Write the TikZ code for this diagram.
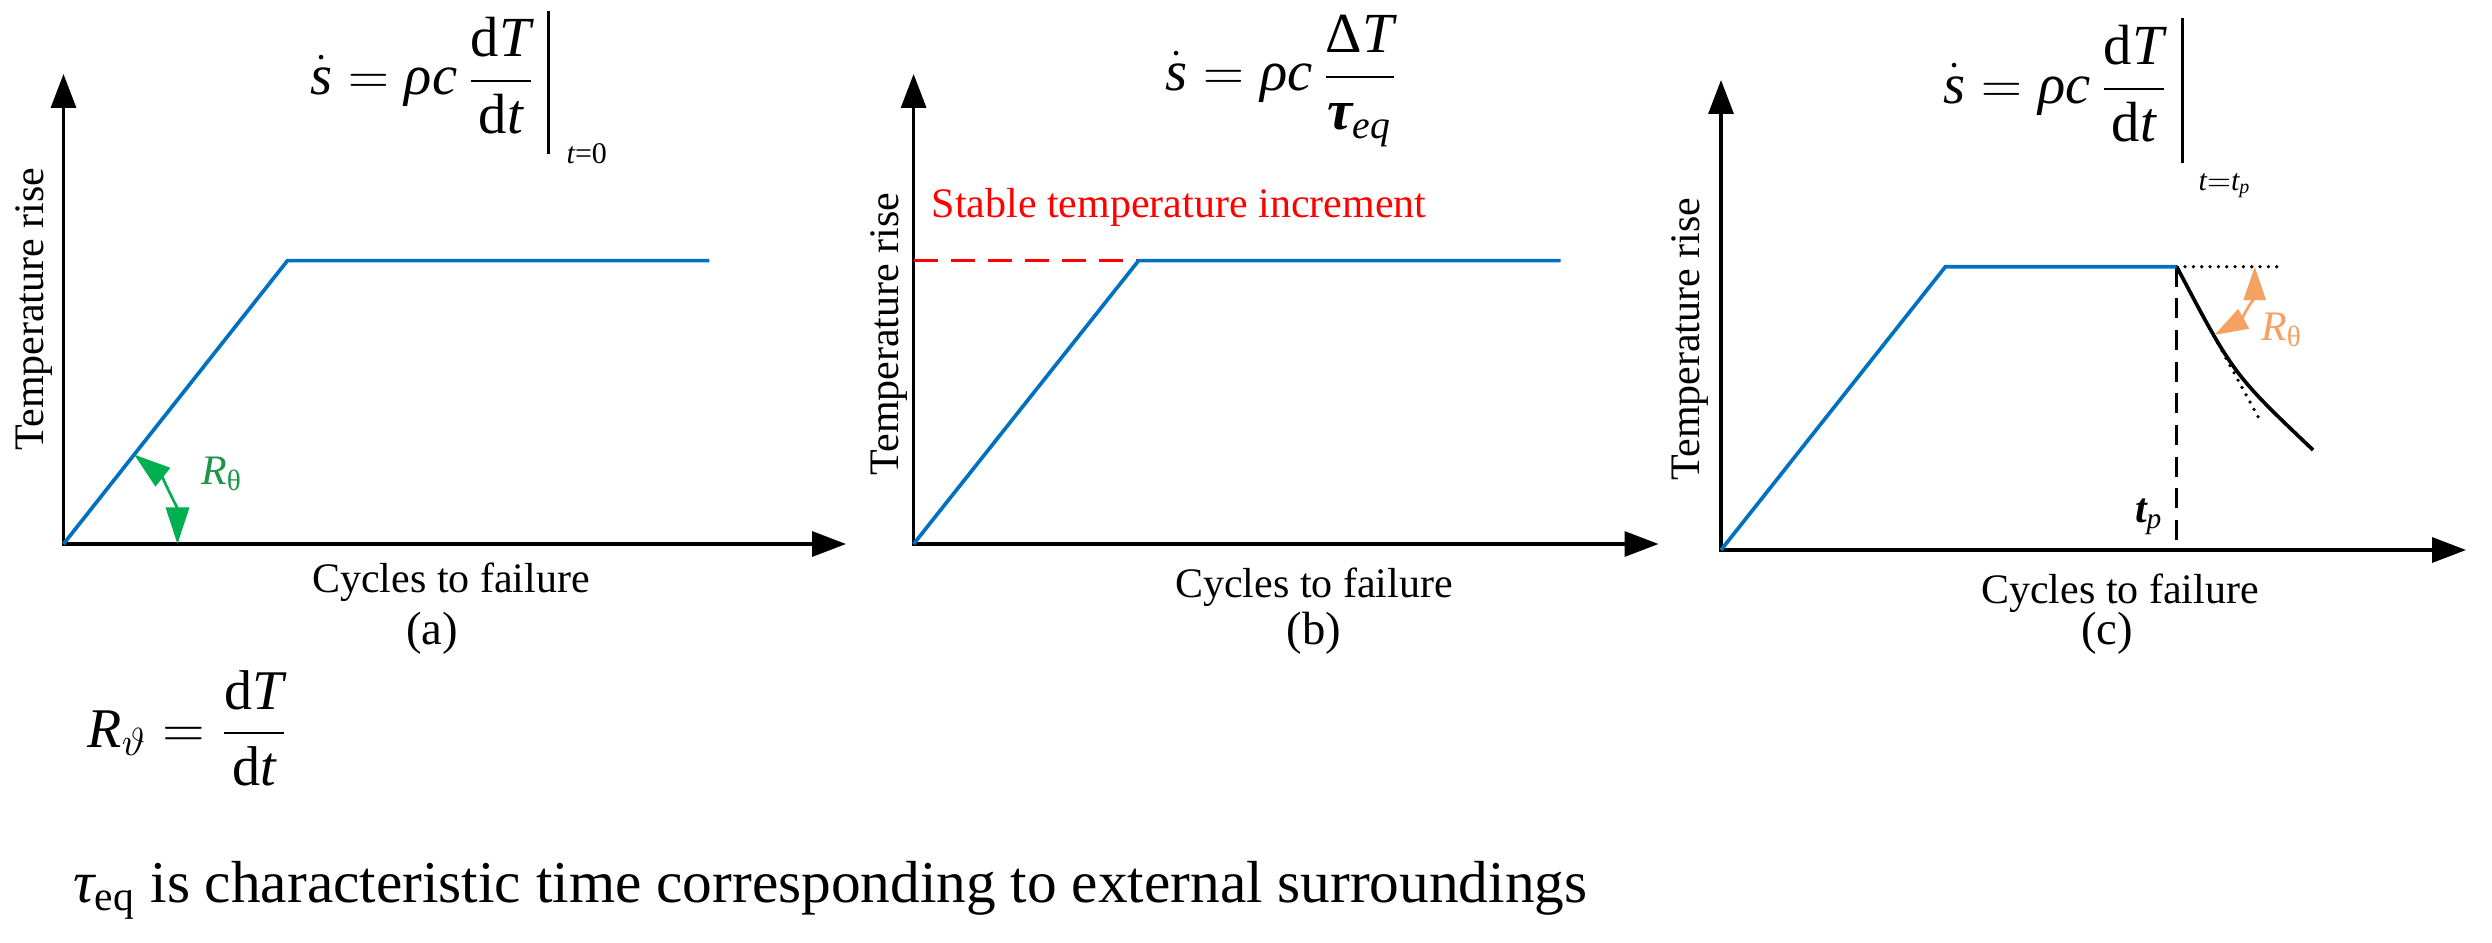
\RequirePackage{fix-cm}
\documentclass[tikz,border=0pt]{standalone}
\usepackage{amsmath}
\usepackage{fontspec}
\setmainfont{Liberation Serif}
\usetikzlibrary{arrows.meta,calc}
\definecolor{myblue}{RGB}{0,112,192}
\definecolor{mygreen}{RGB}{0,176,80}
\definecolor{mygreentext}{RGB}{30,150,70}
\definecolor{myorange}{RGB}{244,162,97}
\newcommand\mi[1]{\text{\itshape #1}}
\begin{document}
\begin{tikzpicture}[x=0.3pt,y=0.3pt,
  axes/.style={line width=1pt,{Triangle[length=10.2pt,width=7.5pt]}-{Triangle[length=10.2pt,width=7.5pt]}},
  bluecurve/.style={line width=1.1pt,myblue,line join=miter},
  garc/.style={line width=0.8pt,mygreen,{Triangle[length=11pt,width=7pt]}-{Triangle[length=11pt,width=7pt]}},
  oarc/.style={line width=0.8pt,myorange,{Triangle[length=10pt,width=6.6pt]}-{Triangle[length=10pt,width=6.6pt]}},
  lbl/.style={font=\fontsize{12.6}{15}\selectfont,inner sep=0pt},
  capt/.style={font=\fontsize{14}{16}\selectfont,inner sep=0pt},
  fml/.style={font=\fontsize{17}{20}\selectfont,inner sep=0pt,anchor=base west},
  subs/.style={font=\fontsize{9}{11}\selectfont,inner sep=0pt,anchor=base west},
  evalbar/.style={line width=0.9pt},
  dotline/.style={line width=1.1pt,dash pattern=on 0pt off 2.5pt,line cap=round},
  reddash/.style={line width=1pt,red,dash pattern=on 7.2pt off 3.9pt},
  blackdash/.style={line width=0.9pt,dash pattern=on 6pt off 3.5pt}
]
\useasboundingbox (0,0) rectangle (2492,942);

% ---------------- panel (a)
\coordinate (Oa) at (63.5,398);
\coordinate (Ya) at (63.5,868);
\coordinate (Xa) at (846,398);
\coordinate (Ca) at (287.5,681.4);
\coordinate (Ea) at (709.4,681.4);
\draw[axes] (Ya) -- (Oa) -- (Xa);
\draw[bluecurve] (Oa) -- (Ca) -- (Ea);
\draw[garc] ($(Oa)+(51.7:34.2pt)$) arc[start angle=51.7,end angle=0,radius=34.2pt];
\node[lbl,text=mygreentext] (ra) at (222,468) {$\mi{R}_{\text{θ}}$};
\node[lbl,rotate=90] (ta) at (34,633) {Temperature rise};
\node[lbl] (ca) at (451,360) {Cycles to failure};
\node[capt] (la) at (432,309) {(a)};
\node[fml] (fa) at (310,847) {$\dot{\mi{s}}=\mi{ρc}\,\dfrac{\text{d}\mi{T}}{\text{d}\mi{t}}$};
\draw[evalbar] (548,931) -- (548,788);
\node[subs] (sa) at (566,779) {{\itshape t}=0};

% ---------------- panel (b)
\coordinate (Ob) at (913.6,398);
\coordinate (Yb) at (913.6,868);
\coordinate (Xb) at (1658.5,398);
\coordinate (Cb) at (1138.6,681.4);
\coordinate (Eb) at (1560.5,681.4);
\coordinate (Sb) at (913.6,681.4);
\draw[axes] (Yb) -- (Ob) -- (Xb);
\draw[reddash] (Sb) -- (Cb);
\draw[bluecurve] (Ob) -- (Cb) -- (Eb);
\node[lbl,text=red] (stb) at (1179,735) {Stable temperature increment};
\node[lbl,rotate=90] (tb) at (889,608) {Temperature rise};
\node[lbl] (cb) at (1314,355) {Cycles to failure};
\node[capt] (lb) at (1314,309) {(b)};
\node[fml] (fb) at (1165,851) {$\dot{\mi{s}}=\mi{ρc}\,\dfrac{\text{Δ}\mi{T}}{\text{\bfseries\itshape τ}_{\mi{eq}}}$};

% ---------------- panel (c)
\coordinate (Oc) at (1721,392);
\coordinate (Yc) at (1721,862);
\coordinate (Xc) at (2466,392);
\coordinate (Cc) at (1945.4,675.3);
\coordinate (Pc) at (2176.7,675.3);
\coordinate (Hc) at (2283,675.3);
\coordinate (Bc) at (2176.7,392);
\coordinate (Ec) at (2313,492);
\coordinate (Kc) at (2233.3,567.8);
\coordinate (T1) at (2210,613);
\coordinate (T2) at (2262,518);
\draw[axes] (Yc) -- (Oc) -- (Xc);
\draw[dotline] (Pc) -- (Hc);
\draw[dotline] (T1) -- (T2);
\draw[blackdash] (Pc) -- (Bc);
\draw[line width=1.1pt] (Pc) .. controls (Kc) .. (Ec);
\draw[bluecurve] (Oc) -- (Cc) -- (Pc);
\draw[oarc] ($(Pc)+(0:23.4pt)$) arc[start angle=0,end angle=-61,radius=23.4pt];
\node[lbl,text=myorange] (rc) at (2282,612) {$\mi{R}_{\text{θ}}$};
\node[lbl] (tpc) at (2149,425) {$\text{\bfseries\itshape t}_{\mi{p}}$};
\node[lbl,rotate=90] (tc) at (1690,603) {Temperature rise};
\node[lbl] (cc) at (2120,349) {Cycles to failure};
\node[capt] (lc) at (2107,309) {(c)};
\node[fml] (fc) at (1943,839) {$\dot{\mi{s}}=\mi{ρc}\,\dfrac{\text{d}\mi{T}}{\text{d}\mi{t}}$};
\draw[evalbar] (2182,924) -- (2182,779);
\node[subs] (sc) at (2198,752) {$\mi{t}{=}\mi{t}_{\mi{p}}$};

% ---------------- bottom
\node[fml,font=\fontsize{16.8}{20}\selectfont] (rf) at (87,195) {$\mi{R}_{\vartheta}=\dfrac{\text{d}\mi{T}}{\text{d}\mi{t}}$};
\node[fml,font=\fontsize{17.8}{21}\selectfont] (tau) at (73,40) {$\mi{τ}_{\text{eq}}$ is characteristic time corresponding to external surroundings};
\end{tikzpicture}
\end{document}
